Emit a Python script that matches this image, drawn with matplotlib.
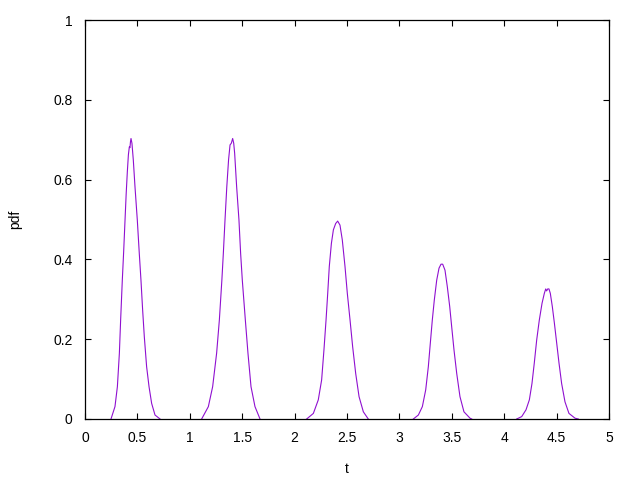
import numpy as np
import matplotlib
matplotlib.use("Agg")
import matplotlib.pyplot as plt

plt.rcParams['font.family'] = ['Liberation Sans', 'DejaVu Sans']

# ── peak data (t, pdf) ───────────────────────────────────────────────────
t1 = [0.248, 0.286, 0.309, 0.328, 0.340, 0.356, 0.369, 0.382, 0.393, 0.404,
      0.414, 0.423, 0.429, 0.434, 0.439, 0.448, 0.461, 0.477, 0.499, 0.518,
      0.534, 0.550, 0.566, 0.588, 0.611, 0.636, 0.668, 0.716]
p1 = [0.0, 0.031, 0.081, 0.165, 0.248, 0.348, 0.420, 0.499, 0.565, 0.620,
      0.662, 0.682, 0.680, 0.695, 0.703, 0.691, 0.649, 0.582, 0.499, 0.415,
      0.348, 0.273, 0.206, 0.131, 0.081, 0.039, 0.010, 0.0]

t2 = [1.113, 1.177, 1.218, 1.256, 1.282, 1.306, 1.320, 1.336, 1.353, 1.370,
      1.384, 1.396, 1.409, 1.419, 1.428, 1.447, 1.469, 1.485, 1.501, 1.530,
      1.555, 1.584, 1.622, 1.670]
p2 = [0.0, 0.031, 0.081, 0.165, 0.248, 0.348, 0.415, 0.499, 0.582, 0.650,
      0.687, 0.691, 0.703, 0.691, 0.666, 0.582, 0.499, 0.415, 0.348, 0.248,
      0.165, 0.081, 0.031, 0.0]

t3 = [2.115, 2.179, 2.226, 2.258, 2.280, 2.300, 2.316, 2.331, 2.351, 2.370,
      2.392, 2.411, 2.433, 2.455, 2.481, 2.503, 2.529, 2.554, 2.583, 2.615,
      2.656, 2.703]
p3 = [0.0, 0.014, 0.048, 0.098, 0.173, 0.248, 0.315, 0.382, 0.440, 0.474,
      0.490, 0.496, 0.486, 0.449, 0.382, 0.315, 0.248, 0.181, 0.114, 0.056,
      0.018, 0.0]

t4 = [3.133, 3.181, 3.219, 3.251, 3.276, 3.295, 3.314, 3.333, 3.356, 3.378,
      3.397, 3.413, 3.435, 3.457, 3.480, 3.499, 3.521, 3.547, 3.578, 3.616,
      3.674, 3.69]
p4 = [0.0, 0.010, 0.031, 0.073, 0.131, 0.190, 0.248, 0.298, 0.348, 0.378,
      0.388, 0.388, 0.373, 0.332, 0.282, 0.231, 0.173, 0.114, 0.056, 0.018,
      0.002, 0.0]

t5 = [4.119, 4.167, 4.208, 4.240, 4.265, 4.287, 4.310, 4.335, 4.361, 4.383,
      4.396, 4.405, 4.415, 4.427, 4.440, 4.459, 4.479, 4.501, 4.523, 4.548,
      4.580, 4.618, 4.676, 4.707]
p5 = [0.0, 0.006, 0.023, 0.048, 0.089, 0.140, 0.198, 0.248, 0.290, 0.315,
      0.326, 0.321, 0.326, 0.326, 0.315, 0.282, 0.240, 0.190, 0.140, 0.089,
      0.043, 0.014, 0.002, 0.0]

peaks = [(t1, p1), (t2, p2), (t3, p3), (t4, p4), (t5, p5)]

xticks = [0, 0.5, 1, 1.5, 2, 2.5, 3, 3.5, 4, 4.5, 5]
xtick_labels = ["0", "0.5", "1", "1.5", "2", "2.5", "3", "3.5", "4", "4.5", "5"]
yticks = [0, 0.2, 0.4, 0.6, 0.8, 1]
ytick_labels = ["0", "0.2", "0.4", "0.6", "0.8", "1"]

fig = plt.figure(figsize=(6.4, 4.8), dpi=100)
ax = fig.add_axes([85 / 640, 61 / 480, 524 / 640, 399 / 480])

for t, p in peaks:
    ax.plot(t, p, color="#8f10d0", linewidth=0.8)

ax.set_xlim(0, 5)
ax.set_ylim(0, 1)
ax.set_xticks(xticks)
ax.set_xticklabels(xtick_labels)
ax.set_yticks(yticks)
ax.set_yticklabels(ytick_labels)
ax.tick_params(direction="in", length=4.5, width=0.8, top=True, right=True,
               labelsize=10, pad=9, colors="black")
for s in ax.spines.values():
    s.set_linewidth(0.9)

ax.set_xlabel("t", fontsize=10, labelpad=12)
ax.set_ylabel("pdf", fontsize=10, labelpad=22)

fig.savefig("out.png", dpi=100)
